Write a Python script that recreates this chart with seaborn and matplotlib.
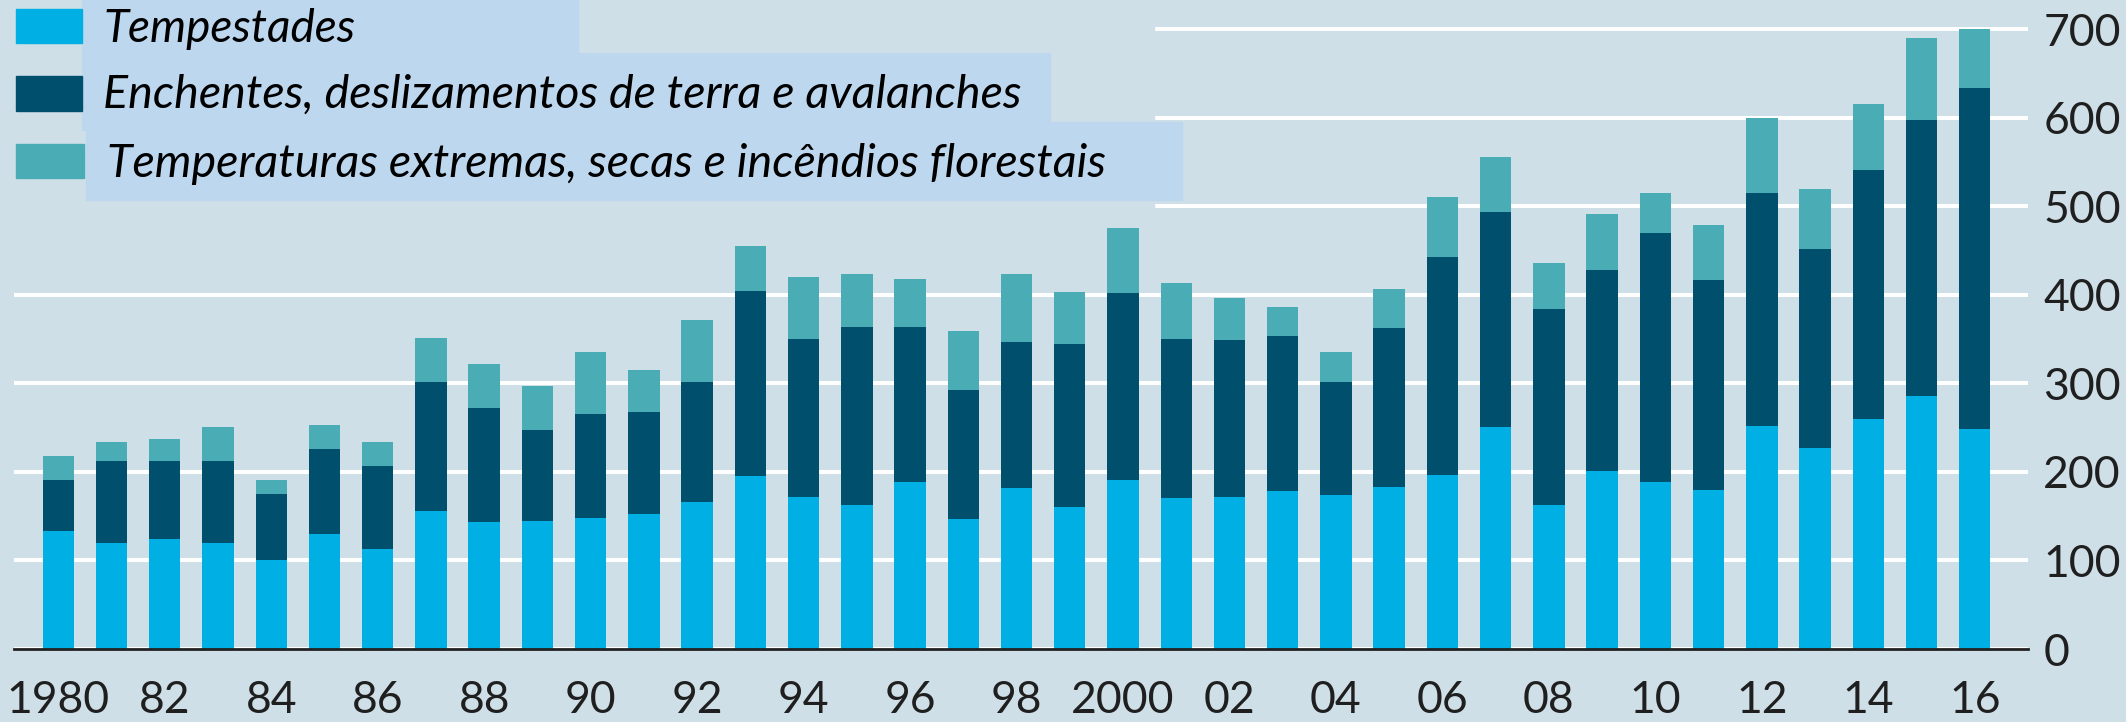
import matplotlib
matplotlib.use('Agg')
import matplotlib.pyplot as plt
import matplotlib.patches as mpatches
import seaborn as sns
import pandas as pd


# dados (numero de eventos por ano)
anos = list(range(1980, 2017))
tempestades = [133, 120, 124, 120, 101, 130, 113, 156, 143, 145, 148, 153, 166, 195, 172, 163, 189, 147, 182,
               160, 191, 170, 172, 178, 174, 183, 196, 251, 163, 201, 189, 180, 252, 227, 260, 286, 248]
enchentes = [58, 92, 88, 92, 74, 96, 94, 145, 129, 102, 117, 115, 135, 209, 178, 201, 175, 146, 165,
             184, 211, 180, 177, 175, 127, 179, 247, 242, 221, 227, 281, 237, 263, 225, 281, 312, 386]
temperaturas = [27, 22, 25, 39, 16, 27, 27, 50, 50, 50, 70, 47, 71, 51, 70, 60, 54, 66, 77,
                59, 73, 63, 47, 33, 34, 45, 68, 63, 52, 63, 45, 62, 85, 68, 75, 92, 66]

series = ['Tempestades',
          'Enchentes, deslizamentos de terra e avalanches',
          'Temperaturas extremas, secas e incêndios florestais']
cores = ['#00b0e4', '#004f6c', '#4aacb4']

rotulos_x = [str(a) if a in (1980, 2000) else str(a)[2:] for a in anos[::2]]

FUNDO = '#cfdfe7'
CAIXA = '#bdd7ee'
W, H = 2126, 722


def px(x0, y0, x1, y1):
    # converte caixa em pixels (origem no topo) para fracao da figura
    return (x0 / W, 1 - y1 / H), (x1 - x0) / W, (y1 - y0) / H


df = pd.DataFrame({'ano': [str(a) for a in anos],
                   'temp': tempestades, 'ench': enchentes, 'seca': temperaturas})
df['c1'] = df['temp']
df['c2'] = df['temp'] + df['ench']
df['c3'] = df['c2'] + df['seca']

fig = plt.figure(figsize=(W / 100, H / 100), dpi=100, facecolor=FUNDO)
ax = fig.add_axes([14 / W, 73 / H, 2014 / W, 649 / H])
ax.set_facecolor(FUNDO)

# barras empilhadas: desenha o total e vai sobrepondo as camadas de baixo
for col, cor in zip(['c3', 'c2', 'c1'], [cores[2], cores[1], cores[0]]):
    sns.barplot(data=df, x='ano', y=col, color=cor, saturation=1, width=0.59,
                linewidth=0, ax=ax, order=df['ano'])

ax.set_xlim(-0.832, 37.0)
ax.set_ylim(0, 733)
ax.set_xlabel('')
ax.set_ylabel('')

ax.set_axisbelow(True)
ax.yaxis.grid(True, color='white', linewidth=2.9)
ax.xaxis.grid(False)
ax.set_yticks(range(0, 701, 100))
ax.yaxis.tick_right()
ax.set_xticks(range(0, 37, 2))
ax.set_xticklabels(rotulos_x)
ax.tick_params(axis='y', length=0, pad=11, labelsize=32, labelcolor='#1f1f1f')
ax.tick_params(axis='x', length=0, pad=22, labelsize=32, labelcolor='#1f1f1f')
for lab in ax.get_xticklabels() + ax.get_yticklabels():
    lab.set_fontfamily('Lato')

for s in ['top', 'left', 'right']:
    ax.spines[s].set_visible(False)
ax.spines['bottom'].set_color('#222222')
ax.spines['bottom'].set_linewidth(2)

# area sem linhas de grade atras da legenda
xy, w, h = px(0, 0, 1154, 213)
fig.patches.append(mpatches.Rectangle(xy, w, h, transform=fig.transFigure, color=FUNDO, zorder=1))

# caixas da legenda
caixas = [(82, 0, 578, 53), (82, 53, 1050, 130), (86, 122, 1182, 200)]
quadrados = [(16, 9, 82, 43), (16, 76, 82, 111), (16, 144, 84, 178)]
textos_pos = [(103, 42), (103, 108), (107, 177)]
larguras = [252, 919, 998]

for cx in caixas:
    xy, w, h = px(*cx)
    fig.patches.append(mpatches.Rectangle(xy, w, h, transform=fig.transFigure, color=CAIXA, zorder=2))
for q, cor in zip(quadrados, cores):
    xy, w, h = px(*q)
    fig.patches.append(mpatches.Rectangle(xy, w, h, transform=fig.transFigure, color=cor, zorder=3))

renderer = fig.canvas.get_renderer()
for (tx, ty), nome, larg in zip(textos_pos, series, larguras):
    t = fig.text(tx / W, 1 - ty / H, nome, fontsize=31, style='italic', family='Lato',
                 color='black', ha='left', va='baseline', zorder=4)
    wt = t.get_window_extent(renderer).width
    t.set_fontsize(31 * larg / wt)

fig.savefig('out.png', dpi=100, facecolor=FUNDO)
